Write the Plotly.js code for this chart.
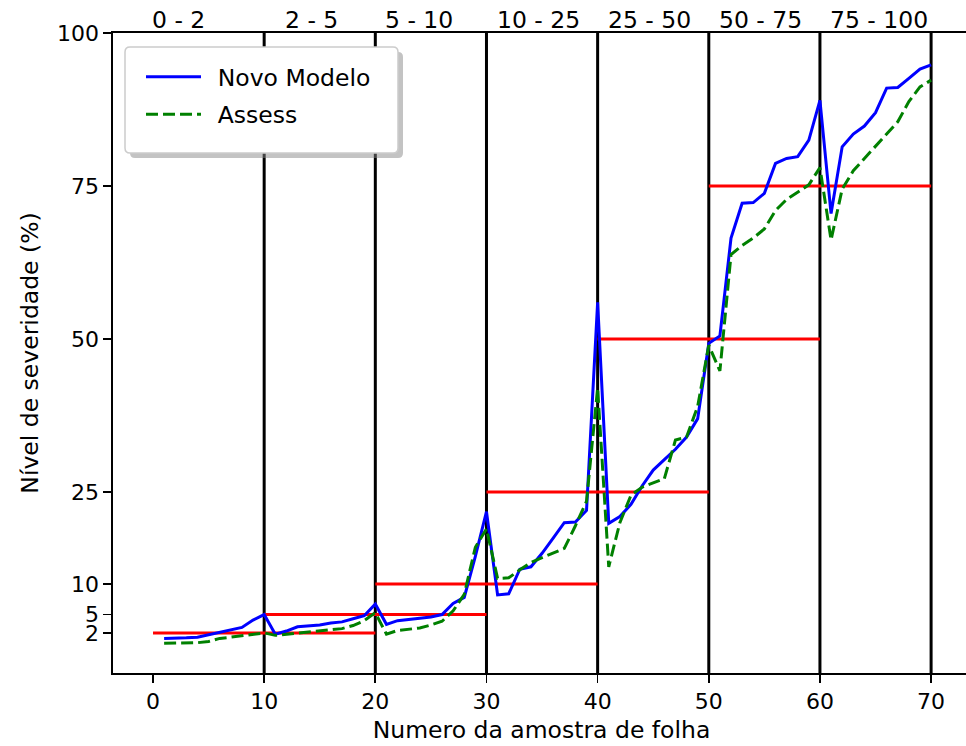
<!DOCTYPE html>
<html><head><meta charset="utf-8">
<script src="https://cdn.plot.ly/plotly-3.0.1.min.js"></script>
<style>html,body{margin:0;padding:0;overflow:hidden;background:#fff}</style>
</head><body><div id="chart"></div>
<script>
const amostra = [1,2,3,4,5,6,7,8,9,10,11,12,13,14,15,16,17,18,19,20,21,22,23,24,25,26,27,28,29,30,31,32,33,34,35,36,37,38,39,40,41,42,43,44,45,46,47,48,49,50,51,52,53,54,55,56,57,58,59,60,61,62,63,64,65,66,67,68,69,70];
const novoModelo = [1.1,1.1,1.2,1.3,1.7,2.2,2.5,2.9,4.1,5.0,
  1.8,2.3,3.0,3.1,3.3,3.6,3.8,4.3,4.8,6.7,
  3.4,4.0,4.2,4.3,4.6,5.0,6.8,7.8,14.5,21.8,
  8.2,8.4,12.4,12.8,15.0,17.5,20.0,20.1,22.0,56.0,
  19.9,21.0,23.0,26.0,28.6,30.3,32.0,34.0,37.0,49.3,
  50.5,66.5,72.2,72.3,73.8,78.7,79.5,79.8,82.5,89.0,
  70.5,81.4,83.5,84.8,87.0,91.0,91.1,92.6,94.1,94.8];
const assess = [0.3,0.3,0.4,0.4,0.6,1.1,1.3,1.5,1.8,2.0,
  1.6,1.8,2.0,2.1,2.3,2.5,2.7,3.2,4.0,5.3,
  1.8,2.4,2.6,2.8,3.3,3.9,5.6,8.3,16.0,19.0,
  10.9,11.0,12.3,13.5,14.3,15.0,15.8,19.5,23.5,42.0,
  12.8,20.0,24.5,25.8,26.5,27.2,33.5,34.0,39.0,49.0,
  44.8,63.8,65.3,66.5,68.0,71.0,72.8,74.0,75.2,78.0,
  66.2,74.5,77.5,79.5,81.5,83.5,85.5,88.8,91.2,92.3];
const classLimits = [10,20,30,40,50,60,70];
const refLevels = [2,5,10,25,50,75];
const refStart = [0,10,20,30,40,50];
const refEnd = [20,30,40,50,60,70];
const classLabels = ['0 - 2','2 - 5','5 - 10','10 - 25','25 - 50','50 - 75','75 - 100'];
const classLabelX = [0,12,21,31,41,51,61];
const yTicks = [2,5,10,25,50,75,100];
const xTicks = [0,10,20,30,40,50,60,70];

const FONT = 'DejaVu Sans';
const FS = 23.5;
const TFS = 22;

const refX = [], refY = [];
refLevels.forEach((lv, i) => { refX.push(refStart[i], refEnd[i], null); refY.push(lv, lv, null); });

const traces = [
  {x: refX, y: refY, mode: 'lines', line: {color: '#ff0000', width: 3}, showlegend: false, hoverinfo: 'skip'},
  {x: amostra, y: novoModelo, name: '\u2002Novo Modelo', mode: 'lines', line: {color: '#0000ff', width: 3}, legendgroup: 'a'},
  {x: amostra, y: assess, name: '\u2002Assess', mode: 'lines', line: {color: '#008000', width: 3, dash: '12px,5px'}, legendgroup: 'b'}
];

// plot area in pixels: left 113, right 970, top 33, bottom 673
const W = 970, H = 746, L = 113, T = 33, B = 73;
const pw = W - L, ph = H - T - B;
const px = v => (v - L) / pw;
const py = v => (H - B - v) / ph;

const shapes = classLimits.map(c => ({type: 'line', xref: 'x', yref: 'paper', x0: c, x1: c, y0: 0, y1: 1, line: {color: '#000', width: 3}, layer: 'below'}));

function roundRect(x0, y0, x1, y1, r, fill, line, opacity) {
  const w = x1 - x0, h = y1 - y0;
  const path = `M ${r},0 L ${w-r},0 Q ${w},0 ${w},${r} L ${w},${h-r} Q ${w},${h} ${w-r},${h} L ${r},${h} Q 0,${h} 0,${h-r} L 0,${r} Q 0,0 ${r},0 Z`;
  return {type: 'path', xref: 'paper', yref: 'paper', xsizemode: 'pixel', ysizemode: 'pixel',
    xanchor: px(x0), yanchor: py(y1), path: path, fillcolor: fill, line: line, opacity: opacity, layer: 'above'};
}
shapes.push(roundRect(130, 52, 403, 158, 5, '#888888', {width: 0}, 0.5));
shapes.push(roundRect(125, 47, 398, 153, 5, '#ffffff', {color: '#cccccc', width: 1.5}, 1));

const annotations = classLabels.map((t, i) => ({
  text: t, x: classLabelX[i], xref: 'x', y: 1, yref: 'paper', xanchor: 'left', yanchor: 'bottom',
  showarrow: false, font: {family: FONT, size: FS, color: '#000'}, yshift: -3, xshift: -3
}));

const layout = {
  width: W, height: H,
  margin: {l: L, r: 0, t: T, b: B},
  paper_bgcolor: '#fff', plot_bgcolor: '#fff',
  font: {family: FONT, size: FS, color: '#000'},
  xaxis: {range: [-3.6, 73.5], tickvals: xTicks, ticks: 'outside', ticklen: 8, tickwidth: 1.7, tickcolor: '#000',
    tickfont: {family: FONT, size: TFS, color: '#000'},
    showline: true, linecolor: '#000', linewidth: 1.7, mirror: true, showgrid: false, zeroline: false,
    title: {text: 'Numero da amostra de folha', font: {family: FONT, size: FS}, standoff: 8}, automargin: false},
  yaxis: {range: [-4.55, 100], tickvals: yTicks, ticks: 'outside', ticklen: 8, tickwidth: 1.7, tickcolor: '#000',
    tickfont: {family: FONT, size: TFS, color: '#000'},
    showline: true, linecolor: '#000', linewidth: 1.7, mirror: true, showgrid: false, zeroline: false,
    title: {text: 'Nível de severidade (%)', font: {family: FONT, size: FS}, standoff: 12}, automargin: false},
  legend: {x: px(141), y: py(55), xanchor: 'left', yanchor: 'top', bgcolor: 'rgba(0,0,0,0)', borderwidth: 0,
    font: {family: FONT, size: FS, color: '#000'}, tracegroupgap: 4, traceorder: 'grouped', itemwidth: 55},
  shapes: shapes,
  annotations: annotations,
  showlegend: true
};

Plotly.newPlot('chart', traces, layout, {displayModeBar: false, staticPlot: true});
</script></body></html>
